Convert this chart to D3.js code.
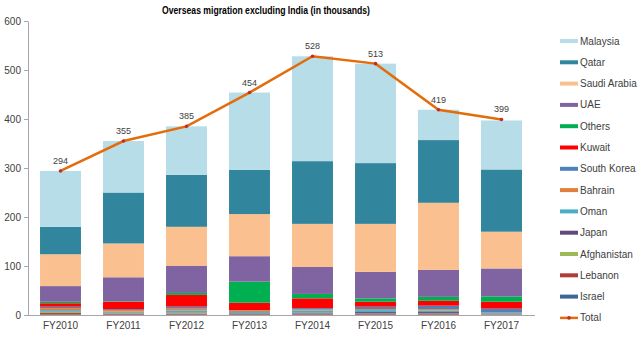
<!DOCTYPE html>
<html>
<head>
<meta charset="utf-8">
<script src="https://cdn.jsdelivr.net/npm/d3@7"></script>
<style>
  body { margin: 0; background: #fff; }
  svg { display: block; font-family: "Liberation Sans", Arial, sans-serif; }
</style>
</head>
<body>
<div id="chart"></div>
<script>
var years = ["FY2010", "FY2011", "FY2012", "FY2013", "FY2014", "FY2015", "FY2016", "FY2017"]

// stack order, bottom first
var countries = ["Israel", "Lebanon", "Afghanistan", "Japan", "Oman", "Bahrain", "South Korea",
  "Kuwait", "Others", "UAE", "Saudi Arabia", "Qatar", "Malaysia"]

var israel      = [1, 1, 1, 1, 1, 1, 1, 1]
var lebanon     = [3, 2, 2, 1, 1, 1, 1, 0.5]
var afghanistan = [2, 1, 1, 1, 1, 1, 1, 0.5]
var japan       = [1, 1, 1, 1, 2, 3, 3, 1]
var oman        = [3, 2, 4, 2, 4, 4, 3, 1]
var bahrain     = [4, 3, 4, 3, 2, 2, 3, 1]
var southKorea  = [3, 2, 4, 1, 3, 5, 7, 8]
var kuwait      = [7, 15, 24, 15, 20, 10, 10, 14]
var others      = [3, 1, 4, 43, 9, 7, 8, 11]
var uae         = [32, 49, 55, 52, 55, 54, 55, 57]
var saudi       = [65, 69, 80, 86, 88, 98, 137, 75]
var qatar       = [56, 104, 106, 90, 128, 124, 128, 127]
var malaysia    = [114, 105, 99, 158, 214, 203, 62, 100]

var totals = [294, 355, 385, 454, 528, 513, 419, 399]
var yTicks = [0, 100, 200, 300, 400, 500, 600]

var seriesValues = {
  "Israel": israel, "Lebanon": lebanon, "Afghanistan": afghanistan, "Japan": japan,
  "Oman": oman, "Bahrain": bahrain, "South Korea": southKorea, "Kuwait": kuwait,
  "Others": others, "UAE": uae, "Saudi Arabia": saudi, "Qatar": qatar, "Malaysia": malaysia
}

var colors = {
  "Malaysia": "#b7dde8",
  "Qatar": "#31859c",
  "Saudi Arabia": "#fac08f",
  "UAE": "#8064a2",
  "Others": "#00b050",
  "Kuwait": "#ff0000",
  "South Korea": "#4f81bd",
  "Bahrain": "#e0803a",
  "Oman": "#4bacc6",
  "Japan": "#604a7b",
  "Afghanistan": "#9bbb59",
  "Lebanon": "#b03c3a",
  "Israel": "#3c6898"
}

var width = 640
var height = 337

var svg = d3.select('#chart').append("svg")
svg.attr('width', width).attr('height', height)

// table for d3.stack
var table = years.map(function(y, i) {
  var row = { year: y }
  countries.forEach(function(c) { row[c] = seriesValues[c][i] })
  return row
})

var x = d3.scaleBand().domain(years).range([29, 533]).paddingInner(0.35).paddingOuter(0.175)
var y = d3.scaleLinear().domain([0, 600]).range([315, 21])

var stack = d3.stack().keys(countries)
var layers = stack(table)

svg.append("g")
  .selectAll("g")
  .data(layers)
  .enter().append("g")
  .attr("fill", function(d) { return colors[d.key] })
  .selectAll("rect")
  .data(function(d) { return d })
  .enter().append("rect")
  .attr("x", function(d) { return x(d.data.year) })
  .attr("width", x.bandwidth())
  .attr("y", function(d) { return y(d[1]) })
  .attr("height", function(d) { return y(d[0]) - y(d[1]) })

// y axis
var yAxis = svg.append("g")
  .attr("transform", "translate(28,0)")
  .call(d3.axisLeft(y).tickValues(yTicks).tickSize(4).tickSizeOuter(0))
yAxis.select(".domain").attr("stroke", "#a6a6a6")
yAxis.selectAll(".tick line").attr("stroke", "#a6a6a6")
yAxis.selectAll("text").attr("fill", "#404040").attr("font-size", 10).attr("x", -7)

// x axis
var xAxis = svg.append("g")
  .attr("transform", "translate(0,315)")
  .call(d3.axisBottom(x).tickSize(0).tickSizeOuter(0))
xAxis.select(".domain").attr("stroke", "#a6a6a6").attr("d", "M28,0.5H535")
xAxis.selectAll("text").attr("fill", "#404040").attr("font-size", 10).attr("dy", "1.05em")

// total line
var line = d3.line()
  .x(function(d, i) { return x(years[i]) + x.bandwidth() / 2 })
  .y(function(d) { return y(d) })

svg.append("path")
  .datum(totals)
  .attr("fill", "none")
  .attr("stroke", "#e46c0a")
  .attr("stroke-width", 2.5)
  .attr("d", line)

svg.append("g")
  .selectAll("circle")
  .data(totals)
  .enter().append("circle")
  .attr("cx", function(d, i) { return x(years[i]) + x.bandwidth() / 2 })
  .attr("cy", function(d) { return y(d) })
  .attr("r", 1.8)
  .attr("fill", "#c0302a")

svg.append("g")
  .selectAll("text")
  .data(totals)
  .enter().append("text")
  .attr("x", function(d, i) { return x(years[i]) + x.bandwidth() / 2 })
  .attr("y", function(d) { return y(d) - 7 })
  .attr("text-anchor", "middle")
  .attr("font-size", 9)
  .attr("fill", "#404040")
  .text(function(d) { return d })

// title
svg.append("text")
  .attr("x", 266)
  .attr("y", 14)
  .attr("text-anchor", "middle")
  .attr("font-size", 10.5)
  .attr("font-weight", "bold")
  .attr("fill", "#000")
  .attr("textLength", 208)
  .attr("lengthAdjust", "spacingAndGlyphs")
  .text("Overseas migration excluding India (in thousands)")

// legend, top-down is reverse of the stack
var legendItems = countries.slice().reverse().concat(["Total"])
var legend = svg.append("g")
  .selectAll("g")
  .data(legendItems)
  .enter().append("g")
  .attr("transform", function(d, i) { return "translate(560," + (41 + i * 21.3) + ")" })

legend.append("rect")
  .attr("x", 0)
  .attr("y", -2)
  .attr("width", 18)
  .attr("height", 4)
  .attr("fill", function(d) { return d === "Total" ? "#e46c0a" : colors[d] })
  .attr("height", function(d) { return d === "Total" ? 2.5 : 4 })
  .attr("y", function(d) { return d === "Total" ? -1.25 : -2 })

legend.filter(function(d) { return d === "Total" })
  .append("circle")
  .attr("cx", 9)
  .attr("cy", 0)
  .attr("r", 1.8)
  .attr("fill", "#c0302a")

legend.append("text")
  .attr("x", 20)
  .attr("y", 3.5)
  .attr("font-size", 10)
  .attr("fill", "#404040")
  .text(function(d) { return d })
</script>
</body>
</html>
